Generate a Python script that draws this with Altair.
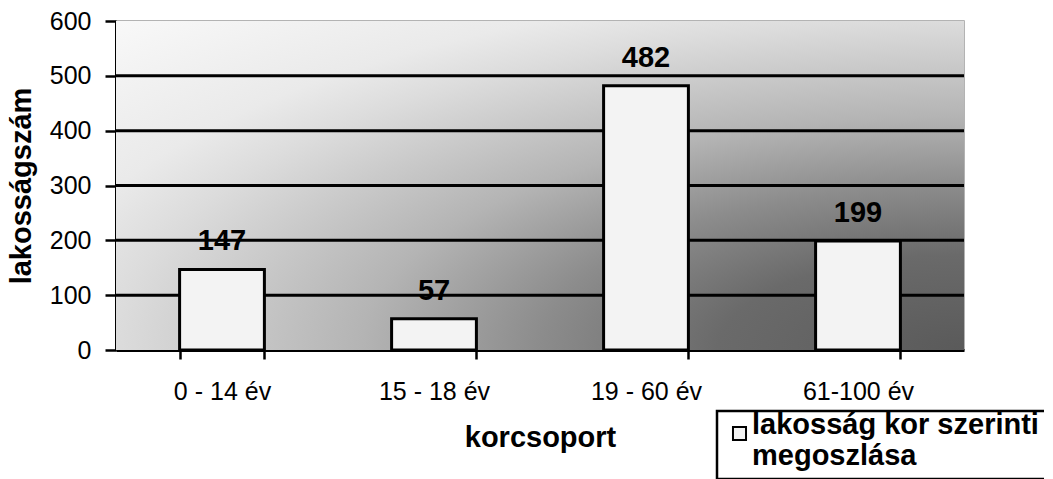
import base64
import altair as alt
import pandas as pd

categories = ["0 - 14 év", "15 - 18 év", "19 - 60 év", "61-100 év"]
values = [147, 57, 482, 199]
series_name = "lakosság kor szerinti\nmegoszlása"
y_ticks = [0, 100, 200, 300, 400, 500, 600]
grid_values = [100, 200, 300, 400, 500]

df = pd.DataFrame({"korcsoport": categories, "lakosságszám": values, "series": series_name})
grid_df = pd.DataFrame({"lakosságszám": grid_values})

FONT = "Liberation Sans"
W, H = 848, 329

# elliptical "from corner" background gradient (light top-left -> dark bottom-right)
grad_stops = [
    (0.0, "#5a5a5a"), (0.2, "#6a6a6a"), (0.345, "#8c8c8c"), (0.49, "#b4b4b4"),
    (0.54, "#bebebe"), (0.69, "#dcdcdc"), (0.77, "#eaeaea"), (0.97, "#f8f8f8"),
]
stops_svg = "".join(f"<stop offset='{o}' stop-color='{c}'/>" for o, c in grad_stops)
svg = (
    f"<svg xmlns='http://www.w3.org/2000/svg' width='{W}' height='{H}' "
    f"viewBox='0 0 {W} {H}' preserveAspectRatio='none'>"
    f"<defs><radialGradient id='g' cx='1' cy='1' r='1.45' fx='1' fy='1'>{stops_svg}"
    f"</radialGradient></defs><rect width='{W}' height='{H}' fill='url(#g)'/></svg>"
)
bg_url = "data:image/svg+xml;base64," + base64.b64encode(svg.encode()).decode()

bg = alt.Chart(df).mark_image(
    width=W, height=H, aspect=False, align="left", baseline="top"
).encode(
    x=alt.value(0), y=alt.value(0), url=alt.value(bg_url)
)

y_scale = alt.Scale(domain=[0, 600], nice=False)

grid = alt.Chart(grid_df).mark_rule(color="black", strokeWidth=3).encode(
    y=alt.Y("lakosságszám:Q", scale=y_scale)
)

x_enc = alt.X(
    "korcsoport:N",
    sort=categories,
    scale=alt.Scale(paddingInner=0.6, paddingOuter=0.3),
    axis=alt.Axis(
        title="korcsoport",
        labelAngle=0,
        labelFont=FONT,
        labelFontSize=25,
        labelColor="black",
        labelPadding=20,
        tickBand="extent",
        tickSize=9,
        tickWidth=2.5,
        tickColor="black",
        domainColor="black",
        domainWidth=3,
        titleFont=FONT,
        titleFontSize=29,
        titleFontWeight="bold",
        titleColor="black",
        titlePadding=19,
        grid=False,
    ),
)

y_enc = alt.Y(
    "lakosságszám:Q",
    scale=y_scale,
    axis=alt.Axis(
        title="lakosságszám",
        values=y_ticks,
        labelFont=FONT,
        labelFontSize=25,
        labelColor="black",
        labelPadding=14,
        tickSize=11,
        tickWidth=2.5,
        tickColor="black",
        domainColor="black",
        domainWidth=3,
        grid=False,
        titleFont=FONT,
        titleFontSize=29,
        titleFontWeight="bold",
        titleColor="black",
        titlePadding=13,
    ),
)

bars = alt.Chart(df).mark_bar(stroke="black", strokeWidth=3).encode(
    x=x_enc,
    y=y_enc,
    color=alt.Color(
        "series:N",
        scale=alt.Scale(range=["#f3f3f3"]),
        legend=alt.Legend(
            title=None,
            orient="none",
            legendX=601,
            legendY=390,
            symbolType="square",
            symbolSize=170,
            symbolStrokeColor="black",
            symbolStrokeWidth=2,
            labelFont=FONT,
            labelFontSize=29,
            labelFontWeight="bold",
            labelColor="black",
            labelLimit=600,
            labelExpr="split(datum.label, '\\n')",
            labelBaseline="alphabetic",
            labelOffset={"expr": "-2"},
            fillColor="white",
            strokeColor="black",
            padding=8,
        ),
    ),
)

labels = alt.Chart(df).mark_text(
    font=FONT,
    fontSize=29,
    fontWeight="bold",
    color="black",
    baseline="alphabetic",
    dy=-19,
).encode(
    x=alt.X("korcsoport:N", sort=categories),
    y=alt.Y("lakosságszám:Q", scale=y_scale),
    text="lakosságszám:Q",
)

chart = (
    alt.layer(bg, grid, bars, labels)
    .properties(
        width=W,
        height=H,
        autosize=alt.AutoSizeParams(type="none"),
        padding={"left": 108, "top": 13, "right": 80, "bottom": 130},
        background="white",
    )
    .configure_view(stroke="#9a9a9a", strokeWidth=1.5)
    .configure_legend(strokeWidth=2.5)
)

chart.save("out.html", embed_options={"renderer": "svg", "actions": False})
